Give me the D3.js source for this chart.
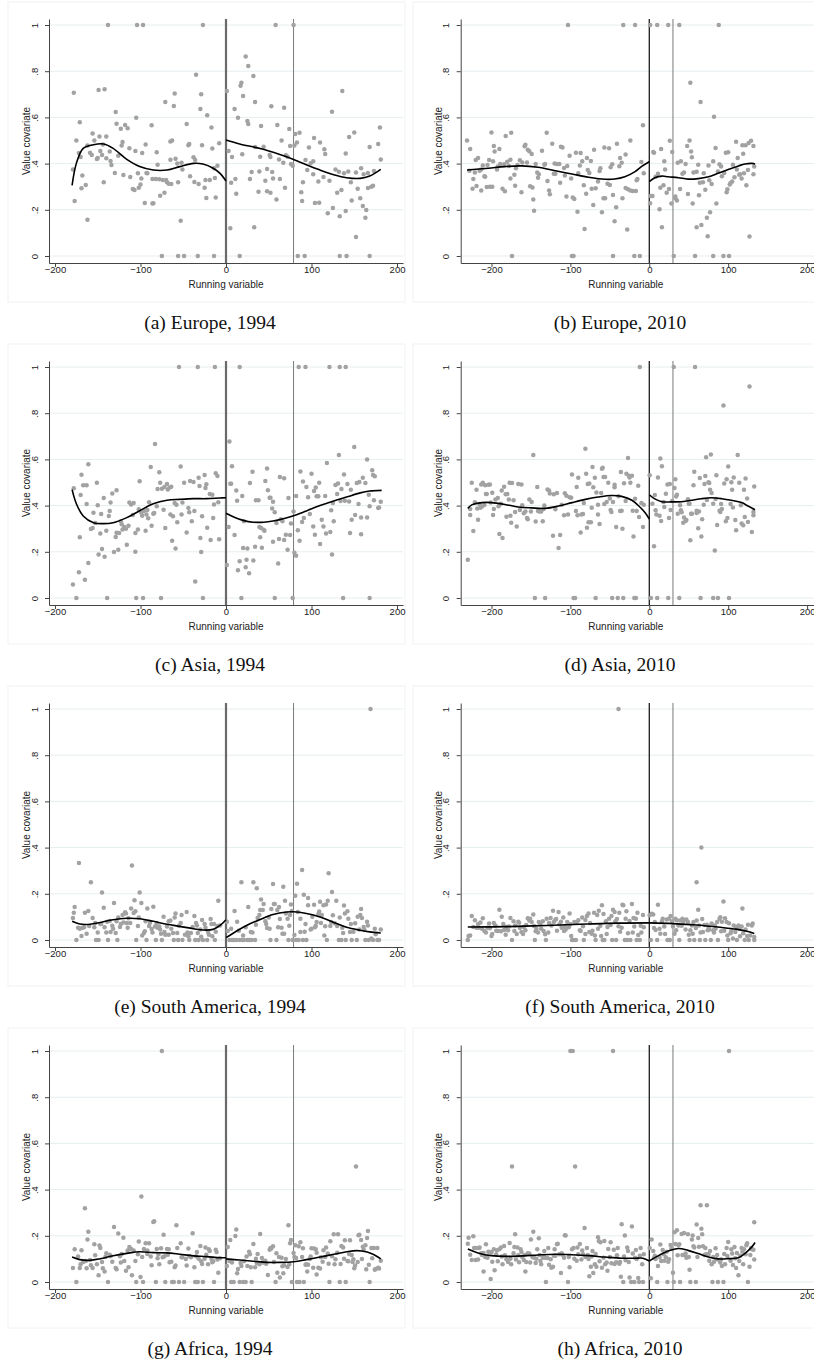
<!DOCTYPE html>
<html>
<head>
<meta charset="utf-8">
<script src="https://cdn.jsdelivr.net/npm/d3@7"></script>
<style>
  html, body { margin: 0; padding: 0; background: #fff; }
  svg { display: block; }
  .tick text { font-family: "Liberation Sans", Arial, sans-serif; }
</style>
</head>
<body>
<svg id="chart" width="814" height="1365"></svg>
<script>
// ---------- data: [running variable, value covariate] ----------
const europe1994 = [
[-179,.375],[-178,.707],[-177,.238],[-175,.50],[-172,.446],[-171,.579],[-170,.429],[-169,.293],[-168,.349],[-164,.307],[-162,.157],[-162,.478],[-159,.447],[-157,.437],[-156,.530],[-154,.50],[-151,.42],[-150,.424],[-149,.719],[-148,.517],[-147,.455],[-145,.437],[-144,.483],[-143,.319],[-142,.722],[-140,.517],[-140,.423],[-138,1],[-136,.452],[-135,.411],[-134,.394],[-130,.359],[-129,.623],[-128,.573],[-126,.434],[-123,.551],[-122,.478],[-121,.494],[-120,.351],[-118,.567],[-115,.553],[-113,.466],[-112,.342],[-109,.29],[-107,.286],[-106,.455],[-105,.599],[-104,1],[-103,.358],[-102,.296],[-100,.31],[-98,.446],[-99,.336],[-97,1],[-95,.229],[-93,.359],[-94,.483],[-92,.358],[-87,.566],[-86,.227],[-85,.228],[-86,.333],[-82,.333],[-81,.449],[-80,.395],[-78,.332],[-77,.261],[-75,0],[-74,.329],[-72,.274],[-71,.667],[-70,.329],[-69,.319],[-67,.313],[-65,.417],[-65,.496],[-63,.50],[-64,.312],[-61,.649],[-60,.703],[-59,.421],[-57,.40],[-56,0],[-56,.319],[-53,.153],[-52,.404],[-51,.374],[-49,0],[-46,.571],[-44,.479],[-43,.485],[-42,.345],[-37,.32],[-38,.427],[-36,.416],[-35,.785],[-33,0],[-32,.312],[-30,.636],[-29,.70],[-28,.479],[-27,1],[-25,.296],[-24,.329],[-23,.251],[-22,.609],[-19,.329],[-17,.556],[-16,.465],[-14,0],[-14,.38],[-13,.338],[-12,.253],[-10,.391],[-8,.488],
[1,.714],[3,.455],[5,.12],[6,.317],[7,.429],[10,.636],[11,.333],[12,.27],[14,.599],[16,0],[17,.737],[18,.75],[19,.44],[20,.693],[23,.864],[25,.584],[26,.571],[26,.822],[28,.333],[30,.364],[32,.779],[33,.124],[34,.667],[34,.472],[38,.278],[39,.366],[41,.563],[40,.43],[44,.473],[46,.326],[48,.377],[48,.28],[51,.437],[52,.429],[53,.648],[54,.364],[55,.335],[52,.274],[58,1],[59,.245],[60,.567],[62,.418],[63,.333],[65,.50],[67,.404],[68,.642],[69,.296],[70,.436],[72,.43],[74,.55],[75,.476],[76,.398],[78,.391],[79,1],[80,.478],[81,.528],[83,.491],[84,0],[86,.534],[88,.276],[89,.238],[90,.319],[92,0],[93,.416],[95,.372],[97,.47],[99,.401],[102,.354],[103,.511],[104,.229],[102,.41],[108,.323],[109,.231],[110,.491],[114,.342],[115,.462],[116,.442],[119,.185],[121,.326],[124,.625],[125,.208],[128,.375],[130,.274],[132,.365],[133,.172],[133,0],[135,.286],[136,.714],[138,.358],[140,.195],[140,.444],[141,0],[143,.366],[144,.515],[146,.319],[147,.24],[150,.535],[152,.361],[152,.082],[154,.291],[157,.25],[158,.38],[160,.216],[161,.354],[163,.166],[164,.199],[166,.359],[166,.294],[168,.472],[168,0],[170,.30],[172,.304],[173,.368],[178,.485],[180,.556],[181,.418]];

const europe2010 = [
[-231,.50],[-227,.463],[-228,.369],[-224,.291],[-223,.333],[-221,.361],[-220,.416],[-219,.303],[-217,.424],[-215,.369],[-213,.284],[-213,.374],[-211,.392],[-209,.345],[-208,.343],[-206,.299],[-205,.394],[-203,.416],[-202,.30],[-200,.535],[-199,.30],[-198,.41],[-197,.476],[-196,.452],[-193,.374],[-192,.387],[-190,.463],[-189,.398],[-186,.291],[-184,.397],[-183,.28],[-182,.519],[-180,.408],[-178,.39],[-176,.335],[-175,.534],[-176,.417],[-174,0],[-171,.352],[-170,.304],[-169,.38],[-167,.394],[-164,.414],[-162,.276],[-161,.405],[-158,.475],[-157,.482],[-155,.405],[-154,.46],[-152,.453],[-151,.302],[-149,.442],[-148,.297],[-147,.245],[-146,.196],[-144,.398],[-142,.361],[-141,.339],[-140,.354],[-136,.456],[-133,.395],[-132,.398],[-130,.534],[-129,.325],[-127,.284],[-126,.267],[-123,.486],[-121,.356],[-120,.40],[-119,.356],[-117,.398],[-114,.398],[-113,.317],[-112,.473],[-110,.47],[-108,.381],[-107,.348],[-105,.258],[-104,.39],[-103,1],[-101,.434],[-99,.336],[-98,0],[-96,0],[-97,.253],[-95,.247],[-93,.447],[-91,.192],[-90,.358],[-88,.392],[-87,.446],[-85,.41],[-83,.306],[-82,.117],[-80,.27],[-79,.424],[-78,.372],[-76,.359],[-74,.411],[-73,.291],[-71,.221],[-70,.46],[-68,.293],[-65,.323],[-63,.368],[-62,.38],[-60,.189],[-58,.25],[-57,.47],[-56,.25],[-53,.313],[-51,.466],[-50,.307],[-49,.384],[-47,.397],[-46,0],[-46,.264],[-44,.15],[-42,.211],[-41,.486],[-38,.388],[-37,.424],[-35,.404],[-34,.25],[-33,1],[-30,.294],[-30,.439],[-28,.115],[-27,.289],[-24,.50],[-24,.284],[-21,.281],[-19,0],[-18,1],[-17,.281],[-16,.328],[-15,.333],[-12,0],[-10,.407],[-8,.566],[-7,.358],
[1,.228],[1,1],[2,.26],[4,.26],[5,.45],[6,.447],[8,.343],[10,1],[11,.356],[13,.202],[14,.296],[15,.463],[16,.124],[18,.306],[19,.41],[20,.374],[22,.274],[24,1],[25,.29],[26,.499],[28,.227],[29,.45],[31,0],[33,.258],[33,.25],[35,.24],[36,.404],[38,1],[39,.29],[40,.41],[42,.356],[44,.362],[46,.398],[48,.476],[49,.268],[51,.50],[52,.75],[53,.452],[54,.427],[55,.227],[56,.361],[58,0],[60,.124],[60,.365],[62,.395],[63,.263],[64,.317],[65,.667],[66,.134],[68,.319],[69,.358],[71,.287],[73,.166],[74,.085],[75,.392],[76,.328],[77,.189],[79,.312],[81,0],[81,.41],[82,.603],[84,.468],[85,.227],[87,.366],[88,1],[89,.397],[91,.387],[92,.345],[94,0],[95,.359],[97,.447],[98,.276],[99,.289],[100,.449],[101,0],[102,.31],[103,.316],[105,.323],[106,.395],[108,.341],[110,.495],[111,.375],[112,.424],[114,.352],[115,.354],[117,.336],[118,.479],[119,.443],[120,.358],[122,.479],[123,.306],[125,.372],[126,.489],[127,.084],[129,.499],[132,.476],[132,.354],[133,.387]];

const asia1994 = [
[-179,.058],[-178,.475],[-175,0],[-172,.111],[-171,.263],[-170,.446],[-169,.534],[-167,.488],[-165,.079],[-163,.488],[-163,.407],[-161,.579],[-161,.152],[-158,.299],[-156,.303],[-155,.369],[-153,.325],[-151,.499],[-150,.401],[-149,.188],[-147,.279],[-146,.364],[-145,.212],[-143,.433],[-142,.179],[-140,.291],[-139,0],[-137,.355],[-136,.377],[-135,.413],[-133,.452],[-131,.199],[-129,.264],[-128,.283],[-128,.466],[-126,.209],[-125,.281],[-123,.332],[-122,.319],[-121,.297],[-119,.307],[-117,.30],[-116,.231],[-114,.313],[-113,.413],[-111,.405],[-109,.359],[-108,.411],[-106,.281],[-106,.20],[-105,0],[-103,.297],[-102,.384],[-101,.505],[-99,.369],[-98,.356],[-97,0],[-96,.377],[-94,.291],[-93,.361],[-92,.381],[-91,.345],[-90,.414],[-88,.567],[-87,.313],[-85,.365],[-84,.368],[-83,.667],[-81,.397],[-80,.472],[-78,.544],[-77,.499],[-76,0],[-75,.473],[-73,.382],[-72,.481],[-71,.303],[-69,.494],[-68,.47],[-66,.478],[-65,.361],[-64,.482],[-63,.248],[-62,.354],[-60,.411],[-59,.214],[-58,.404],[-57,.328],[-55,1],[-53,.569],[-52,.361],[-51,.413],[-49,.499],[-46,.284],[-44,.39],[-43,.371],[-42,.507],[-40,.332],[-38,.502],[-37,.377],[-36,.071],[-33,1],[-32,.521],[-31,.485],[-30,.26],[-29,.199],[-28,.354],[-27,0],[-25,.532],[-24,.476],[-23,.492],[-22,.304],[-19,.45],[-18,.251],[-16,.447],[-15,.346],[-14,.405],[-13,1],[-12,.54],[-10,.528],[-9,.414],[-8,.254],
[1,.143],[3,.307],[4,.678],[5,.495],[6,.495],[7,.57],[10,.273],[12,.465],[13,.421],[14,.12],[16,1],[16,.159],[18,0],[19,.442],[20,.216],[21,.332],[23,.133],[24,.166],[25,.214],[27,.107],[28,.498],[31,.547],[32,.162],[34,.222],[35,.423],[38,.423],[39,.307],[40,.263],[41,.303],[42,.218],[44,.296],[45,.291],[46,.507],[48,.561],[49,.466],[51,.434],[52,.434],[54,.387],[55,.417],[55,.244],[57,.371],[57,0],[59,.325],[61,.149],[62,.255],[63,.524],[64,.341],[66,.332],[68,.518],[68,.251],[70,.274],[72,.209],[73,.433],[75,.273],[76,.322],[78,0],[79,.374],[80,.196],[82,.442],[82,.183],[84,.293],[85,1],[86,.248],[87,.548],[89,.329],[90,.504],[91,.346],[93,1],[94,.481],[96,.436],[98,.364],[100,.538],[102,.309],[103,.463],[104,.274],[105,.478],[106,.44],[108,.44],[109,.499],[110,.234],[112,.339],[114,.309],[116,.442],[117,.279],[118,.584],[121,1],[122,.286],[123,.38],[124,.188],[125,.411],[126,.332],[128,.489],[130,.45],[131,.496],[132,.619],[133,1],[134,.42],[135,.472],[137,0],[138,.535],[139,.421],[140,1],[142,.494],[144,.418],[145,.281],[146,.469],[147,.339],[150,.654],[151,.359],[153,.498],[155,.407],[156,.502],[158,.348],[158,.276],[160,.521],[163,.498],[165,.60],[165,.349],[167,.447],[168,.397],[168,0],[171,.553],[172,.532],[174,.527],[173,.423],[178,.39],[179,.392],[181,.417]];

const asia2010 = [
[-230,.166],[-227,.385],[-227,.359],[-225,.499],[-223,.29],[-221,.414],[-219,.469],[-218,.387],[-217,.339],[-215,.407],[-214,.391],[-213,.491],[-212,.396],[-211,.499],[-209,.403],[-208,.488],[-207,.45],[-206,.45],[-204,.49],[-202,.491],[-201,.413],[-199,.456],[-198,.359],[-197,.385],[-195,.426],[-192,.433],[-191,.397],[-190,.277],[-188,.408],[-187,.465],[-186,.26],[-184,.482],[-182,.449],[-181,.352],[-180,.45],[-178,.426],[-177,.499],[-176,.356],[-175,.326],[-174,.498],[-172,.423],[-170,.372],[-168,.309],[-166,.493],[-164,.381],[-162,.491],[-161,.401],[-159,.367],[-157,.375],[-155,.346],[-154,.341],[-152,.426],[-150,.375],[-149,.416],[-147,.619],[-145,0],[-144,.331],[-142,.481],[-141,.377],[-139,.375],[-137,.375],[-135,.332],[-134,.385],[-133,.40],[-132,0],[-129,.47],[-127,.465],[-126,.452],[-122,.27],[-121,.449],[-119,.384],[-117,.455],[-115,.216],[-113,.273],[-111,.404],[-108,.358],[-107,.453],[-105,.443],[-103,.361],[-101,.436],[-99,.434],[-98,.535],[-96,0],[-94,0],[-93,.377],[-92,.481],[-91,.358],[-90,.521],[-87,.284],[-86,.361],[-84,.364],[-83,.411],[-81,.646],[-80,.538],[-79,.304],[-78,.494],[-77,.328],[-76,.496],[-74,.328],[-73,.391],[-72,.567],[-71,.479],[-69,.521],[-68,0],[-67,.457],[-65,.404],[-65,.362],[-63,.32],[-61,.455],[-60,.56],[-59,.564],[-58,.524],[-57,.407],[-56,.524],[-54,.416],[-52,.499],[-50,.431],[-49,.381],[-48,.372],[-47,0],[-46,.416],[-44,.479],[-44,.49],[-42,.307],[-40,0],[-39,.44],[-37,.377],[-36,.546],[-35,.378],[-34,.30],[-33,0],[-32,.497],[-30,.42],[-29,.538],[-27,.606],[-26,.529],[-25,.522],[-24,.499],[-22,.529],[-21,.378],[-20,.266],[-19,0],[-18,.43],[-17,0],[-16,.377],[-14,.486],[-13,.351],[-12,1],[-10,.411],[-8,.307],[-7,.404],
[0.5,.531],[2,0],[4,.408],[6,.224],[7,.446],[8,.38],[9,.362],[10,0],[11,.522],[13,.356],[14,.604],[15,.333],[16,.57],[18,.416],[19,.394],[21,.451],[23,.491],[24,0],[25,.346],[26,.494],[27,.381],[29,.42],[31,1],[32,.476],[33,.514],[34,.439],[35,.447],[36,.365],[38,0],[39,.401],[40,.38],[41,.371],[43,.326],[44,.349],[46,.333],[47,.338],[49,.427],[50,.408],[51,.408],[52,.25],[53,.365],[54,.365],[56,.488],[57,.547],[58,1],[60,.368],[60,.378],[62,.302],[63,.375],[64,.519],[65,0],[66,.266],[67,.341],[69,.404],[70,.494],[71,.528],[72,.609],[73,.424],[75,.501],[76,.498],[77,.469],[78,.621],[79,.455],[81,0],[81,.408],[83,.206],[84,.429],[85,.531],[86,.316],[87,0],[89,.378],[90,.372],[91,.407],[92,.385],[94,.833],[95,.496],[97,.332],[98,.514],[99,.346],[100,.569],[101,0],[103,.407],[104,.501],[105,.469],[106,.392],[107,.522],[109,.338],[110,.293],[112,.619],[114,.499],[116,.401],[117,.323],[119,.315],[120,.469],[121,.351],[122,.517],[124,.431],[125,.329],[127,.916],[130,.286],[132,.358],[132,.372],[133,.483]];

const southAmerica1994 = [
[-179,.095],[-178,.118],[-177,.143],[-175,0],[-173,.053],[-172,.333],[-171,.049],[-169,.017],[-168,.053],[-166,.055],[-165,.118],[-163,.027],[-161,.126],[-160,.061],[-158,.25],[-156,.095],[-154,.055],[-153,.074],[-152,0],[-150,.032],[-149,0],[-147,.069],[-146,.069],[-145,.206],[-143,.14],[-142,.055],[-140,.032],[-139,.079],[-138,0],[-136,.082],[-135,.035],[-133,.062],[-132,.049],[-131,.16],[-129,.03],[-128,.081],[-127,0],[-126,.097],[-124,.056],[-123,.069],[-121,.108],[-120,.076],[-118,.12],[-117,.115],[-116,.074],[-115,.053],[-114,.094],[-112,.074],[-111,.136],[-110,.322],[-108,.117],[-107,.172],[-106,.124],[-105,0],[-103,.061],[-102,.097],[-101,.206],[-99,.16],[-98,.02],[-96,.03],[-95,.038],[-94,.081],[-93,0],[-92,.136],[-90,.061],[-89,.074],[-87,.048],[-86,.032],[-85,.144],[-83,.058],[-82,0],[-81,.072],[-80,.053],[-78,.058],[-77,.046],[-76,.027],[-75,0],[-73,.101],[-72,.035],[-71,.023],[-69,.058],[-67,.081],[-67,.023],[-65,.084],[-64,.049],[-62,.03],[-61,0],[-60,.097],[-59,.115],[-57,.03],[-56,0],[-55,.062],[-53,.074],[-52,.108],[-51,0],[-48,.023],[-46,.121],[-45,.033],[-44,.016],[-43,0],[-41,.03],[-39,.056],[-37,.104],[-36,0],[-35,.074],[-34,.063],[-33,.03],[-32,0],[-30,.046],[-29,.014],[-28,.087],[-27,0],[-25,.069],[-24,.053],[-22,0],[-21,.035],[-20,.023],[-18,.091],[-17,.069],[-16,.016],[-14,.069],[-13,0],[-12,.036],[-10,.061],[-9,.17],[-7,.063],
[1,.079],[2,.039],[4,0],[6,.049],[7,0],[9,0],[10,.126],[12,0],[13,.079],[15,.04],[16,0],[18,.25],[19,0],[20,.019],[21,0],[23,.055],[25,0],[26,.143],[27,0],[29,.035],[30,0],[31,.033],[32,.25],[34,0],[35,.066],[36,.224],[37,.095],[39,.108],[40,.13],[41,.175],[43,.13],[44,.156],[46,.081],[47,.069],[48,.052],[50,.097],[51,.049],[52,0],[53,.134],[55,.242],[56,.156],[57,.156],[59,0],[60,.13],[61,.055],[62,.143],[63,.091],[65,.053],[66,.027],[67,.231],[68,.027],[69,.17],[70,.115],[72,.092],[73,0],[74,.062],[75,.108],[76,.154],[77,.126],[78,0],[80,.022],[81,.192],[82,0],[83,.244],[84,.121],[85,0],[87,.035],[87,.092],[89,.303],[90,0],[91,.196],[92,.036],[93,.069],[94,0],[96,.15],[96,.182],[99,.046],[100,.049],[101,.101],[103,.153],[104,.055],[105,.062],[106,.078],[108,.113],[109,.123],[110,.166],[111,.074],[112,.108],[114,.15],[115,.02],[116,.059],[117,.154],[118,0],[119,.17],[120,.289],[122,.061],[123,.078],[124,.208],[125,.107],[127,.072],[129,.17],[130,.061],[132,0],[133,.097],[135,0],[136,.053],[137,.03],[138,.149],[139,.115],[140,0],[142,.124],[143,.092],[145,.035],[146,.069],[147,0],[149,.036],[151,.072],[153,0],[154,.101],[156,.045],[157,.108],[158,.134],[159,.095],[161,.056],[162,.043],[163,0],[165,.079],[166,.063],[167,0],[169,1],[170,.006],[172,0],[174,.049],[175,.025],[177,0],[179,0],[181,.046]];

const southAmerica2010 = [
[-230,0],[-229,.017],[-227,.02],[-225,.104],[-223,.056],[-221,.085],[-219,.053],[-217,.069],[-216,.053],[-214,.076],[-212,.049],[-211,.094],[-209,.039],[-207,.033],[-205,.053],[-203,.071],[-202,.051],[-200,.017],[-199,.026],[-197,.074],[-195,.063],[-194,.04],[-192,.039],[-190,.131],[-188,.038],[-187,.101],[-185,.069],[-184,.043],[-182,.023],[-181,.056],[-179,.042],[-178,.058],[-176,.095],[-174,0],[-172,.081],[-171,.039],[-170,.063],[-168,.026],[-166,.079],[-165,.075],[-164,.053],[-162,.035],[-160,.026],[-159,.056],[-157,.042],[-156,.065],[-154,.094],[-152,.084],[-151,.092],[-149,.078],[-147,.11],[-146,.061],[-145,0],[-144,.038],[-143,.048],[-141,.033],[-140,.078],[-138,.069],[-137,.049],[-135,.081],[-134,.039],[-132,.025],[-131,0],[-130,.092],[-128,.033],[-127,.074],[-125,.095],[-124,.063],[-122,.127],[-121,.078],[-119,.088],[-118,.091],[-117,.04],[-115,.121],[-114,.068],[-112,.079],[-111,.053],[-109,.097],[-108,.039],[-107,.058],[-106,.046],[-104,.078],[-102,.055],[-101,.115],[-100,.068],[-99,.017],[-98,0],[-96,0],[-95,.078],[-93,0],[-92,.076],[-90,.085],[-88,.042],[-87,.039],[-85,.097],[-84,.059],[-83,0],[-81,.087],[-81,.026],[-79,.104],[-77,.115],[-76,.035],[-75,.074],[-73,.027],[-72,.04],[-70,.118],[-69,.02],[-68,0],[-66,.108],[-65,.049],[-64,.127],[-62,.062],[-61,.017],[-60,.15],[-59,0],[-58,.113],[-57,0],[-55,.081],[-54,.026],[-53,.056],[-51,.092],[-49,.065],[-48,.104],[-47,0],[-46,.131],[-44,.121],[-43,.081],[-42,0],[-39,1],[-41,.091],[-39,.059],[-38,.118],[-37,.036],[-35,.053],[-34,.153],[-33,.15],[-31,0],[-30,.092],[-29,.124],[-28,0],[-27,.029],[-25,.082],[-24,0],[-22,.156],[-21,.033],[-20,.095],[-19,.058],[-17,.092],[-16,0],[-15,.118],[-14,.022],[-12,0],[-11,.062],[-10,.033],[-8,.108],[-7,.055],
[0.5,.107],[2,0],[3,.114],[5,.11],[6,.052],[7,.078],[8,.043],[10,0],[11,.153],[13,.049],[14,.027],[16,.081],[17,.092],[19,.058],[20,.026],[22,.089],[23,0],[25,.092],[26,0],[27,.104],[29,.081],[30,.058],[32,.027],[33,.092],[34,.042],[35,.085],[37,.063],[38,0],[39,.084],[41,.062],[42,.092],[43,.079],[44,.085],[46,.046],[47,.089],[49,.078],[50,.023],[51,0],[52,.042],[54,.063],[55,.027],[56,.078],[57,0],[59,.052],[60,.25],[60,.084],[62,.131],[63,.063],[64,0],[65,.033],[66,.40],[67,.091],[68,.035],[70,.065],[71,0],[73,.066],[74,.042],[75,.058],[76,.046],[78,0],[79,.071],[81,.042],[82,.033],[83,.063],[84,.049],[86,.078],[87,0],[89,.092],[90,.098],[91,.038],[92,.079],[94,.167],[95,.04],[96,.094],[98,.078],[99,.02],[100,0],[101,.072],[103,.029],[104,.04],[106,.006],[107,.063],[109,.035],[110,.055],[111,0],[113,.063],[114,.049],[115,.016],[117,.058],[118,.136],[119,.029],[121,0],[122,.046],[124,.017],[125,.066],[126,0],[128,.02],[130,.063],[131,.071],[133,0],[133,.013]];

const africa1994 = [
[-179,.061],[-177,.142],[-175,0],[-173,.11],[-171,.061],[-170,.077],[-169,.137],[-167,.087],[-165,.319],[-164,.091],[-163,.059],[-161,.218],[-162,.184],[-159,.095],[-158,.072],[-156,.061],[-154,.163],[-153,.116],[-151,.077],[-149,.029],[-148,.158],[-147,.147],[-145,.087],[-144,.059],[-142,.045],[-141,.108],[-140,.124],[-138,0],[-136,.118],[-135,.111],[-133,.088],[-131,.238],[-129,.061],[-128,.055],[-126,.21],[-124,.111],[-123,.084],[-122,.121],[-120,.192],[-119,.091],[-117,.049],[-115,.136],[-114,.064],[-113,.152],[-111,.143],[-110,.029],[-108,.136],[-106,.091],[-105,0],[-103,.12],[-102,.175],[-100,.022],[-99,.37],[-98,.108],[-97,0],[-96,.143],[-94,.168],[-92,.136],[-92,.121],[-90,.168],[-88,.11],[-87,.072],[-85,.26],[-84,.263],[-82,0],[-81,.143],[-80,.103],[-79,.12],[-78,.077],[-76,.146],[-75,1],[-74,.107],[-73,.205],[-72,.111],[-71,0],[-69,.143],[-68,.118],[-67,.142],[-66,.085],[-64,.088],[-63,0],[-61,0],[-60,.064],[-59,.071],[-58,.246],[-57,.147],[-55,0],[-53,.168],[-52,.107],[-51,.107],[-49,0],[-47,.1],[-46,.071],[-44,.145],[-43,.111],[-41,.107],[-39,.211],[-37,.064],[-36,0],[-35,.111],[-34,.13],[-33,0],[-32,.101],[-30,.156],[-29,.09],[-28,.078],[-27,0],[-25,.101],[-24,.149],[-23,.118],[-21,.077],[-20,.142],[-19,.134],[-17,.1],[-16,.085],[-15,.09],[-14,0],[-12,.14],[-11,.13],[-10,.097],[-9,.04],[-7,.103],
[1,.069],[2,.152],[4,.091],[5,.182],[6,0],[7,.084],[9,0],[11,.199],[12,.227],[13,.038],[14,.056],[16,0],[17,.082],[18,.069],[20,0],[21,.09],[23,0],[24,.11],[25,.069],[27,.131],[28,.12],[29,.064],[30,0],[32,.165],[34,.064],[35,.101],[36,.082],[37,.121],[39,.077],[40,.208],[42,.104],[43,.084],[44,.085],[46,.092],[47,.079],[49,.03],[51,.14],[52,.147],[53,.145],[55,.155],[56,.087],[58,0],[59,.124],[60,.04],[62,.108],[63,.02],[65,.105],[66,.068],[67,.038],[68,.072],[70,.1],[72,.065],[73,.246],[74,.077],[75,.168],[76,.182],[77,0],[79,.126],[80,.108],[81,.159],[82,.104],[83,0],[85,.155],[86,0],[87,.172],[89,.108],[90,.146],[91,0],[93,.075],[94,.077],[95,.046],[96,.075],[98,.1],[99,.11],[100,.146],[102,.062],[103,.145],[105,.142],[106,.032],[106,.127],[108,.062],[110,.058],[111,.107],[113,.088],[114,.137],[116,.108],[117,.149],[119,.123],[120,.079],[121,0],[122,.176],[124,.111],[126,.207],[127,.077],[128,.098],[130,.127],[131,.207],[133,0],[134,.078],[135,.156],[137,.149],[138,.101],[139,.181],[140,0],[142,.091],[143,.09],[144,.121],[145,.181],[147,.117],[148,.087],[149,.098],[150,.059],[151,.071],[152,.50],[154,.087],[155,.202],[156,.205],[158,.182],[159,.1],[160,.153],[161,.14],[163,.159],[164,.055],[165,.191],[166,.221],[167,.075],[168,0],[170,.147],[171,.103],[173,.147],[174,.053],[175,.056],[177,.147],[178,.062],[179,.058],[181,.092]];

const africa2010 = [
[-230,.166],[-229,.192],[-227,.118],[-225,.095],[-223,.198],[-222,.147],[-220,.095],[-219,.147],[-217,.097],[-216,.147],[-215,.149],[-213,.124],[-212,.117],[-210,.126],[-210,.045],[-208,.108],[-207,.163],[-205,.105],[-204,.131],[-202,.13],[-201,.013],[-200,.129],[-199,.088],[-197,.142],[-196,.051],[-194,.12],[-193,.137],[-192,.09],[-190,.142],[-188,.149],[-187,.11],[-186,.077],[-184,.156],[-183,.116],[-181,.098],[-179,.087],[-177,.169],[-176,.101],[-175,.077],[-174,.50],[-172,.124],[-171,.152],[-170,.207],[-169,.097],[-167,.149],[-166,.116],[-165,.085],[-163,.142],[-162,.13],[-161,.108],[-159,.095],[-158,.117],[-157,.046],[-156,.087],[-154,.124],[-152,.123],[-151,.084],[-150,.184],[-148,.108],[-147,.218],[-146,.105],[-144,.082],[-143,.101],[-142,.142],[-140,.189],[-139,.117],[-138,.091],[-137,.077],[-135,.105],[-134,.113],[-133,.134],[-132,.105],[-131,0],[-129,.104],[-128,.147],[-127,.075],[-125,.098],[-124,.062],[-122,.066],[-121,.114],[-120,.142],[-119,.114],[-117,.163],[-116,.166],[-114,.12],[-112,.039],[-111,.124],[-110,.118],[-108,.105],[-107,.202],[-106,.201],[-103,0],[-102,.108],[-101,.064],[-100,1],[-98,.142],[-97,1],[-96,.147],[-95,.101],[-94,.50],[-92,.092],[-91,.149],[-90,.12],[-88,.165],[-86,.097],[-85,.136],[-84,.12],[-82,.234],[-81,.108],[-79,.147],[-78,.117],[-77,.1],[-76,.025],[-74,.066],[-73,.11],[-72,.134],[-71,.039],[-69,.077],[-68,.121],[-67,.066],[-65,.194],[-64,.178],[-63,.09],[-62,.172],[-60,.062],[-58,.105],[-57,.178],[-56,.077],[-54,.084],[-53,.049],[-52,.143],[-50,.108],[-49,.172],[-48,.081],[-46,1],[-45,.14],[-44,.078],[-42,.085],[-41,.116],[-40,.147],[-38,.079],[-37,.087],[-36,.023],[-35,.25],[-33,0],[-32,.11],[-31,.201],[-30,.094],[-28,.149],[-27,.134],[-26,.087],[-25,.02],[-23,0],[-22,.24],[-21,.123],[-19,0],[-18,.105],[-17,.139],[-16,.1],[-14,.017],[-13,0],[-12,.114],[-11,.147],[-9,.077],[-8,0],[-7,.12],
[0.5,.147],[2,.016],[3,.184],[5,.134],[6,.104],[7,.114],[8,.1],[10,0],[11,.069],[13,.107],[14,.162],[15,.091],[17,.139],[18,.12],[19,.092],[21,.107],[22,.131],[23,0],[24,.088],[25,.098],[27,.16],[28,.145],[30,.04],[31,0],[32,.215],[33,.165],[35,.224],[36,.116],[37,.159],[38,.163],[39,0],[41,.208],[42,.117],[44,.212],[45,.117],[46,.123],[47,.105],[49,.207],[50,.108],[51,.053],[52,0],[54,.184],[55,.201],[56,.155],[57,.149],[59,0],[60,.249],[61,.108],[62,.191],[63,.153],[65,.332],[66,.231],[67,.207],[68,.155],[70,.117],[71,.147],[72,.12],[73,.332],[75,.12],[76,.092],[77,.134],[79,.077],[80,0],[81,.108],[82,.088],[84,.146],[85,.098],[86,.117],[87,0],[89,.092],[90,.084],[91,.098],[92,.069],[94,0],[95,.121],[96,.077],[98,.147],[99,.113],[100,.173],[101,1],[103,.092],[104,.142],[105,.123],[106,.074],[108,.152],[109,.103],[110,.061],[111,.126],[113,.029],[114,.091],[115,.114],[117,.147],[118,.131],[119,.077],[120,.142],[122,.12],[123,.159],[124,.168],[125,0],[127,.066],[128,.117],[129,.147],[130,.142],[132,.14],[133,.259],[133,.097]];

// fitted polynomials, left and right of the threshold
const fitEurope1994 = [
  [[-180,.306],[-175,.401],[-167,.466],[-155,.482],[-143,.485],[-132,.466],[-116,.418],[-101,.387],[-85,.372],[-69,.372],[-54,.387],[-38,.401],[-27,.398],[-15,.38],[-7,.358],[0,.325]],
  [[0,.502],[16,.485],[40,.465],[63,.439],[79,.418],[94,.395],[110,.372],[126,.352],[141,.339],[157,.336],[168,.346],[181,.375]]];
const fitEurope2010 = [
  [[-231,.372],[-204,.38],[-183,.387],[-162,.39],[-141,.384],[-119,.369],[-98,.355],[-77,.341],[-56,.332],[-44,.333],[-31,.343],[-18,.365],[-10,.387],[0,.408]],
  [[0,.322],[7,.339],[16,.346],[24,.343],[37,.339],[49,.333],[62,.335],[75,.343],[87,.358],[100,.375],[113,.39],[121,.398],[130,.401],[134,.398]]];
const fitAsia1994 = [
  [[-180,.469],[-175,.408],[-167,.355],[-155,.326],[-144,.322],[-132,.326],[-116,.348],[-101,.378],[-85,.408],[-69,.423],[-54,.427],[-38,.43],[-23,.43],[-7,.433],[0,.434]],
  [[0,.367],[9,.351],[20,.336],[32,.328],[44,.328],[55,.333],[67,.343],[79,.356],[94,.377],[110,.40],[126,.42],[141,.437],[157,.455],[168,.463],[182,.466]]];
const fitAsia2010 = [
  [[-230,.388],[-225,.403],[-212,.413],[-200,.413],[-183,.405],[-166,.394],[-149,.39],[-132,.388],[-115,.398],[-98,.413],[-81,.427],[-65,.437],[-48,.444],[-35,.44],[-22,.423],[-12,.394],[-5,.368],[0,.342]],
  [[0,.447],[7,.429],[16,.417],[28,.416],[41,.417],[54,.423],[66,.43],[79,.434],[92,.43],[104,.423],[117,.413],[125,.398],[134,.382]]];
const fitSouthAmerica1994 = [
  [[-180,.081],[-171,.069],[-159,.068],[-147,.076],[-132,.088],[-116,.094],[-101,.092],[-85,.081],[-69,.068],[-54,.059],[-38,.049],[-27,.043],[-15,.046],[-7,.063],[0,.088]],
  [[0,.01],[12,.038],[24,.063],[40,.089],[55,.11],[71,.121],[79,.122],[94,.115],[110,.1],[126,.076],[141,.055],[157,.042],[168,.035],[181,.03]]];
const fitSouthAmerica2010 = [
  [[-230,.056],[-180,.058],[-130,.063],[-80,.069],[-40,.073],[0,.074]],
  [[0,.074],[30,.071],[60,.065],[90,.055],[110,.047],[125,.037],[133,.028]]];
const fitAfrica1994 = [
  [[-180,.108],[-171,.097],[-159,.094],[-147,.101],[-132,.114],[-116,.124],[-101,.131],[-85,.127],[-69,.126],[-54,.12],[-38,.113],[-23,.11],[-7,.105],[0,.105]],
  [[0,.1],[16,.095],[32,.09],[48,.085],[63,.085],[79,.088],[94,.097],[110,.108],[126,.12],[141,.131],[153,.136],[165,.13],[172,.12],[181,.1]]];
const fitAfrica2010 = [
  [[-230,.143],[-217,.126],[-200,.114],[-181,.111],[-160,.113],[-141,.117],[-119,.12],[-98,.118],[-77,.114],[-56,.108],[-35,.103],[-18,.103],[-8,.103],[0,.091]],
  [[0,.091],[11,.113],[24,.134],[37,.145],[49,.137],[62,.123],[75,.108],[87,.1],[100,.101],[113,.105],[121,.123],[130,.152],[134,.171]]];

const captions = ["(a) Europe, 1994","(b) Europe, 2010","(c) Asia, 1994","(d) Asia, 2010",
                  "(e) South America, 1994","(f) South America, 2010","(g) Africa, 1994","(h) Africa, 2010"];
const secondCutoff = [79, 30];          // second reference line for 1994 and 2010 samples
const xTicks = [-200, -100, 0, 100, 200];
const yTicks = [0, .2, .4, .6, .8, 1];

// ---------- layout ----------
const panels = [
  {pts: europe1994, fit: fitEurope1994},
  {pts: europe2010, fit: fitEurope2010},
  {pts: asia1994, fit: fitAsia1994},
  {pts: asia2010, fit: fitAsia2010},
  {pts: southAmerica1994, fit: fitSouthAmerica1994},
  {pts: southAmerica2010, fit: fitSouthAmerica2010},
  {pts: africa1994, fit: fitAfrica1994},
  {pts: africa2010, fit: fitAfrica2010}
];
const cols = [
  {xDomain: [-207, 207], xRange: [49, 403],   capX: 210, box: [8, 397]},
  {xDomain: [-239, 210], xRange: [460.7, 815], capX: 620, box: [413, 410]}
];
const rowStep = 342;

const svg = d3.select("#chart");
const sans = "'Liberation Sans', Arial, sans-serif";

panels.forEach((p, i) => {
  const col = cols[i % 2];
  const row = Math.floor(i / 2);
  const oy = row * rowStep;
  const g = svg.append("g").attr("transform", `translate(0,${oy})`);

  const x = d3.scaleLinear().domain(col.xDomain).range(col.xRange);
  const y = d3.scaleLinear().domain([-0.0303, 1.026]).range([263, 19]);
  const x0 = col.xRange[0], x1 = col.xRange[1];

  // faint outer frame of the graph region
  g.append("rect").attr("x", col.box[0]).attr("y", 2).attr("width", col.box[1]).attr("height", 300)
    .attr("fill", "none").attr("stroke", "#eef2f4").attr("stroke-width", 1);

  // horizontal grid
  g.append("g").selectAll("line").data(yTicks).join("line")
    .attr("x1", x0).attr("x2", x1)
    .attr("y1", d => y(d)).attr("y2", d => y(d))
    .attr("stroke", "#e6eef0").attr("stroke-width", 1);

  // threshold lines
  const yTop = y.range()[1], yBot = y.range()[0];
  if (i % 2 === 0) {
    g.append("line").attr("x1", x(0)).attr("x2", x(0)).attr("y1", yTop).attr("y2", yBot)
      .attr("stroke", "#6a6a6a").attr("stroke-width", 2.2);
  } else {
    g.append("line").attr("x1", x(0)).attr("x2", x(0)).attr("y1", yTop).attr("y2", yBot)
      .attr("stroke", "#1c1c1c").attr("stroke-width", 1.3);
  }
  const c2 = secondCutoff[i % 2];
  g.append("line").attr("x1", x(c2)).attr("x2", x(c2)).attr("y1", yTop).attr("y2", yBot)
    .attr("stroke", "#7a7a7a").attr("stroke-width", 1);

  // scatter
  g.append("g").selectAll("circle").data(p.pts).join("circle")
    .attr("cx", d => x(d[0])).attr("cy", d => y(d[1])).attr("r", 2.25)
    .attr("fill", "#a2a2a2");

  // fitted curves
  const line = d3.line().x(d => x(d[0])).y(d => y(d[1])).curve(d3.curveCatmullRom.alpha(0.5));
  p.fit.forEach(seg => {
    g.append("path").attr("d", line(seg)).attr("fill", "none")
      .attr("stroke", "#000").attr("stroke-width", 1.6);
  });

  // y axis
  const ya = g.append("g").attr("transform", `translate(${x0},0)`)
    .call(d3.axisLeft(y).tickValues(yTicks).tickSize(4).tickSizeOuter(0)
      .tickFormat(d => d === 0 ? "0" : d === 1 ? "1" : d3.format(".1f")(d).replace(/^0/, "")));
  ya.select(".domain").attr("stroke", "#444");
  ya.selectAll(".tick line").attr("stroke", "#444");
  ya.selectAll(".tick text")
    .attr("x", 0).attr("dy", 0).attr("text-anchor", "middle")
    .attr("transform", "translate(-11.5,0) rotate(-90)")
    .attr("font-size", 9.5).attr("fill", "#222");

  // x axis
  const xa = g.append("g").attr("transform", `translate(0,${yBot})`)
    .call(d3.axisBottom(x).tickValues(xTicks).tickSize(4).tickSizeOuter(0).tickFormat(d3.format("d")));
  xa.select(".domain").attr("stroke", "#444");
  xa.selectAll(".tick line").attr("stroke", "#444");
  xa.selectAll(".tick text").attr("y", 3.5).attr("dy", "0.71em")
    .attr("font-size", 9.5).attr("fill", "#222");

  // axis titles
  g.append("text").attr("transform", `translate(${x0 - 18.7},141) rotate(-90)`)
    .attr("text-anchor", "middle").attr("font-family", sans).attr("font-size", 10)
    .attr("fill", "#222").text("Value covariate");
  g.append("text").attr("x", (x0 + (i % 2 ? 815 : x1)) / 2 + (i % 2 ? -12 : 0)).attr("y", 287.5)
    .attr("text-anchor", "middle").attr("font-family", sans).attr("font-size", 10)
    .attr("fill", "#222").text("Running variable");

  // caption
  g.append("text").attr("x", col.capX).attr("y", 329)
    .attr("text-anchor", "middle").attr("font-family", "'Liberation Serif', 'Times New Roman', serif")
    .attr("font-size", 19.5).attr("fill", "#111").text(captions[i]);
});
</script>
</body>
</html>
